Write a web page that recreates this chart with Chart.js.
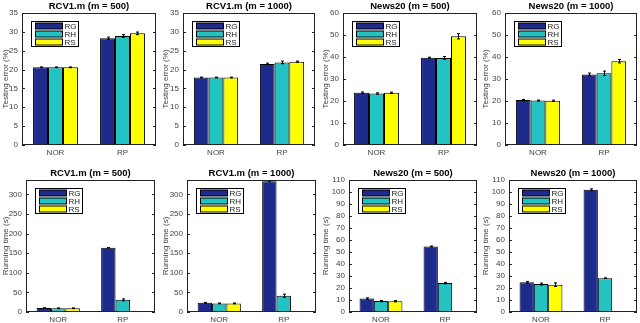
<!DOCTYPE html>
<html>
<head>
<meta charset="utf-8">
<script src="https://cdn.jsdelivr.net/npm/chart.js@4"></script>
<style>
  html, body { margin: 0; padding: 0; background: #fff; }
  #wrap { position: relative; width: 640px; height: 323px; overflow: hidden; }
  #wrap canvas { position: absolute; }
</style>
</head>
<body>
<div id="wrap"></div>
<script>
const categories = ['NOR', 'RP'];
const seriesNames = ['RG', 'RH', 'RS'];
const seriesColors = ['#1c2b8c', '#22c3c3', '#ffff00'];

// testing error (%), one row per series (RG, RH, RS), columns NOR / RP
const errRcv1_500 = [[20.6, 28.3], [20.6, 28.9], [20.6, 29.6]];
const errRcv1_500Sd = [[0.1, 0.3], [0.1, 0.35], [0.1, 0.35]];
const errRcv1_1000 = [[17.9, 21.5], [17.9, 21.9], [17.9, 22.1]];
const errRcv1_1000Sd = [[0.1, 0.2], [0.1, 0.35], [0.1, 0.15]];
const errNews_500 = [[23.8, 39.7], [23.4, 39.6], [23.7, 49.4]];
const errNews_500Sd = [[0.3, 0.2], [0.3, 0.6], [0.3, 1.2]];
const errNews_1000 = [[20.4, 32.1], [20.2, 32.6], [20.1, 38.1]];
const errNews_1000Sd = [[0.3, 0.6], [0.2, 1.0], [0.3, 0.8]];

// running time (s)
const timeRcv1_500 = [[10, 164], [9.5, 31], [9.5, 0.5]];
const timeRcv1_500Sd = [[1, 0.5], [1, 2.5], [1, 0]];
const timeRcv1_1000 = [[23.5, 334], [22, 41.5], [22, 0.5]];
const timeRcv1_1000Sd = [[1, 1.5], [1, 4], [1, 0]];
const timeNews_500 = [[11.2, 54.6], [9.1, 24.1], [9.0, 0.2]];
const timeNews_500Sd = [[0.6, 0.4], [0.5, 0.6], [0.5, 0]];
const timeNews_1000 = [[24.7, 101.8], [23.3, 28.2], [22.8, 0.2]];
const timeNews_1000Sd = [[0.8, 0.8], [0.8, 0.3], [1.5, 0]];

const titles = ['RCV1.m (m = 500)', 'RCV1.m (m = 1000)', 'News20 (m = 500)', 'News20 (m = 1000)'];
const yTitleErr = 'Testing error (%)';
const yTitleTime = 'Running time (s)';

const panels = [
  { title: titles[0], yTitle: yTitleErr, vals: errRcv1_500, sd: errRcv1_500Sd, max: 35, step: 5, rect: [22, 13, 156, 145] },
  { title: titles[1], yTitle: yTitleErr, vals: errRcv1_1000, sd: errRcv1_1000Sd, max: 35, step: 5, rect: [183, 13, 315, 145] },
  { title: titles[2], yTitle: yTitleErr, vals: errNews_500, sd: errNews_500Sd, max: 60, step: 10, rect: [343, 13, 477, 145] },
  { title: titles[3], yTitle: yTitleErr, vals: errNews_1000, sd: errNews_1000Sd, max: 60, step: 10, rect: [505, 13, 637, 145] },
  { title: titles[0], yTitle: yTitleTime, vals: timeRcv1_500, sd: timeRcv1_500Sd, max: 337, step: 50, rect: [26, 180, 155, 312] },
  { title: titles[1], yTitle: yTitleTime, vals: timeRcv1_1000, sd: timeRcv1_1000Sd, max: 337, step: 50, rect: [187, 180, 316, 312] },
  { title: titles[2], yTitle: yTitleTime, vals: timeNews_500, sd: timeNews_500Sd, max: 110, step: 10, rect: [349, 180, 477, 312] },
  { title: titles[3], yTitle: yTitleTime, vals: timeNews_1000, sd: timeNews_1000Sd, max: 110, step: 10, rect: [509, 180, 637, 312] }
];

const FONT = 'Liberation Sans';
const tickFont = { family: FONT, size: 8 };

// frame, inward ticks, error bars, legend and title, matlab style
function panelPlugin(p) {
  return {
    id: 'panel',
    afterDatasetsDraw(chart) {
      const ctx = chart.ctx;
      const y = chart.scales.y;
      ctx.save();
      ctx.strokeStyle = '#000';
      ctx.lineWidth = 1;
      p.vals.forEach((row, i) => {
        const meta = chart.getDatasetMeta(i);
        row.forEach((v, j) => {
          const e = p.sd[i][j];
          if (!e) return;
          const x = Math.round(meta.data[j].x) + 0.5;
          const y1 = y.getPixelForValue(v + e);
          const y2 = y.getPixelForValue(v - e);
          ctx.beginPath();
          ctx.moveTo(x, y1); ctx.lineTo(x, y2);
          ctx.moveTo(x - 1.5, y1); ctx.lineTo(x + 1.5, y1);
          ctx.moveTo(x - 1.5, y2); ctx.lineTo(x + 1.5, y2);
          ctx.stroke();
        });
      });
      ctx.restore();
    },
    afterDraw(chart) {
      const ctx = chart.ctx;
      const a = chart.chartArea;
      const y = chart.scales.y;
      ctx.save();
      ctx.strokeStyle = '#222';
      ctx.lineWidth = 1;
      ctx.strokeRect(a.left + 0.5, a.top + 0.5, a.right - a.left - 1, a.bottom - a.top - 1);
      ctx.beginPath();
      y.ticks.forEach(t => {
        const py = Math.round(y.getPixelForValue(t.value)) + 0.5;
        ctx.moveTo(a.left, py); ctx.lineTo(a.left + 3, py);
        ctx.moveTo(a.right - 3, py); ctx.lineTo(a.right, py);
      });
      ctx.stroke();

      // legend box
      const bx = a.left + 9.5, by = a.top + 8.5;
      ctx.fillStyle = '#fff';
      ctx.fillRect(bx, by, 47, 25);
      ctx.strokeStyle = '#000';
      ctx.strokeRect(bx, by, 47, 25);
      ctx.font = '8px ' + FONT;
      ctx.textBaseline = 'middle';
      ctx.textAlign = 'left';
      seriesNames.forEach((n, k) => {
        const cy = by + 4.5 + k * 8;
        ctx.fillStyle = seriesColors[k];
        ctx.fillRect(bx + 4, cy - 3, 27, 6);
        ctx.strokeRect(bx + 4, cy - 3, 27, 6);
        ctx.fillStyle = '#222';
        ctx.fillText(n, bx + 33, cy + 0.5);
      });

      // title
      ctx.font = 'bold 9.5px ' + FONT;
      ctx.textAlign = 'center';
      ctx.fillStyle = '#000';
      ctx.fillText(p.title, (a.left + a.right) / 2, a.top - 7);
      ctx.restore();
    }
  };
}

const wrap = document.getElementById('wrap');
panels.forEach((p, idx) => {
  const col = idx % 4, row = Math.floor(idx / 4);
  const x0 = col * 160, y0 = row ? 161 : 0;
  const w = 160, h = row ? 162 : 161;
  const r = p.rect;
  const cv = document.createElement('canvas');
  cv.width = w; cv.height = h;
  cv.style.left = x0 + 'px'; cv.style.top = y0 + 'px';
  wrap.appendChild(cv);

  new Chart(cv, {
    type: 'bar',
    data: {
      labels: categories,
      datasets: seriesNames.map((n, i) => ({
        label: n,
        data: p.vals[i],
        backgroundColor: seriesColors[i],
        borderColor: '#000',
        borderWidth: 1,
        barPercentage: 1,
        categoryPercentage: 0.67
      }))
    },
    options: {
      responsive: false,
      animation: false,
      layout: { padding: { left: 0, top: r[1] - y0, right: x0 + w - r[2], bottom: 0 } },
      plugins: { legend: { display: false }, title: { display: false }, tooltip: { enabled: false } },
      scales: {
        x: {
          grid: { display: false, drawTicks: false },
          border: { display: false },
          ticks: { color: '#444', font: tickFont, padding: 3 },
          afterFit(s) { s.height = y0 + h - r[3]; }
        },
        y: {
          min: 0,
          max: p.max,
          grid: { display: false, drawTicks: false },
          border: { display: false },
          ticks: { color: '#444', font: tickFont, padding: 4, autoSkip: false },
          title: { display: true, text: p.yTitle, color: '#444', font: tickFont, padding: { top: 1, bottom: 0 } },
          afterBuildTicks(s) {
            const t = [];
            for (let k = 0; k * p.step <= p.max + 1e-9; k++) t.push({ value: k * p.step });
            s.ticks = t;
          },
          afterFit(s) { s.width = r[0] - x0; }
        }
      }
    },
    plugins: [panelPlugin(p)]
  });
});
</script>
</body>
</html>
